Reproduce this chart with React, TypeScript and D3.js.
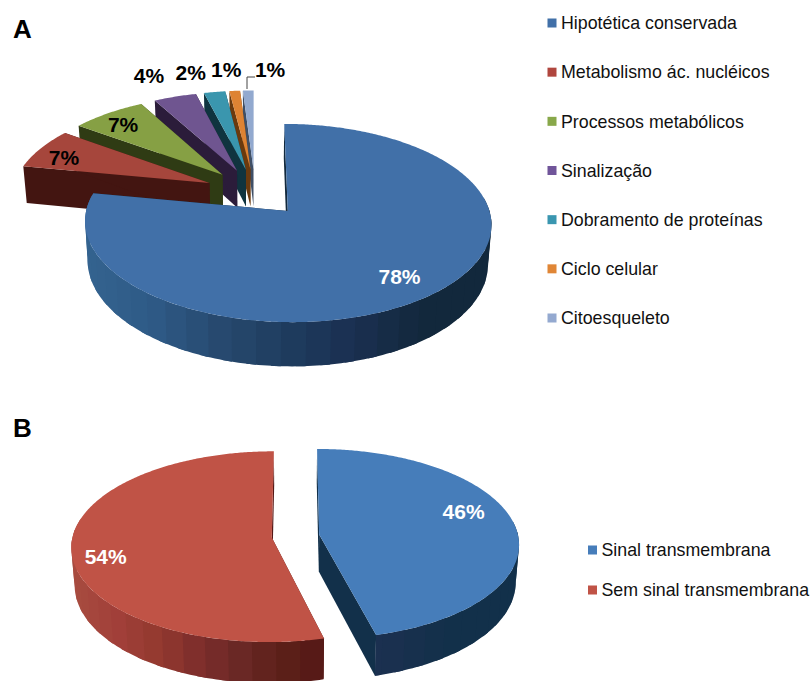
import React from "react";
import * as d3 from "d3";

// Panel A: functional categories
const categoriesA = ["Hipotética conservada", "Metabolismo ác. nucléicos", "Processos metabólicos", "Sinalização", "Dobramento de proteínas", "Ciclo celular", "Citoesqueleto"];
const valuesA = [78, 7, 7, 4, 2, 1, 1];
const topColorsA = ["#4170a8", "#a6463c", "#86a044", "#6f5590", "#3a96ae", "#de8333", "#92a9cf"];
const wallColorsA = ["#12293d", "#431511", "#2f3b14", "#2b1c3a", "#10343f", "#6b3a0e", "#3f4f66"];
const legendColorsA = ["#4170a8", "#b0463e", "#88a84a", "#70559a", "#3a96b0", "#e08636", "#94a9d0"];
const labelRadiusA = [0.8, 0.82, 0.82, 1.2, 1.25, 1.25, 1.25];
const labelNudgeA = [[-2, 1], [-6, 3], [-4, 1], [-15, -8], [-17, -2], [-5, -4], [23, -4]];

// Panel B: transmembrane signal
const categoriesB = ["Sinal transmembrana", "Sem sinal transmembrana"];
const valuesB = [46, 54];
const topColorsB = ["#467dba", "#c05346"];
const wallColorsB = ["#12304a", "#551816"];
const labelRadiusB = [0.73, 0.85];
const labelNudgeB = [[2, -14], [4, 9]];

// Shading of the curved outer wall, running left to right across each slice
const wallStopsBlueA = ["#34638f", "#2e5a86", "#27496f", "#1e3c5e", "#1a2f50", "#12283c", "#12283c"];
const wallStopsRedB = ["#a84c40", "#a2403a", "#94392f", "#7e2e2c", "#6a2825", "#5c2018", "#551816"];
const wallStopsBlueB = ["#1b3050", "#12304a", "#12304a"];

type Scene = { cx: number; cy: number; rx: number; ry: number; k: number; explode: number; depth: number; shrink: number };
const sceneA: Scene = { cx: 255, cy: 192.3, rx: 197, ry: 93.2, k: 0.118, explode: 0.255, depth: 38, shrink: 0.015 };
const sceneB: Scene = { cx: 295.5, cy: 536, rx: 199, ry: 94.2, k: 0.097, explode: 0.12, depth: 37, shrink: 0.015 };

const closed = d3.line<[number, number]>().curve(d3.curveLinearClosed);
const FONT = "'Liberation Sans', Arial, sans-serif";

function project(s: Scene, U: number, V: number, z: number): [number, number] {
  const p = 1 / (1 - s.k * V);
  return [s.cx + s.rx * U * p * (1 - s.shrink * z), s.cy + s.ry * V * p + s.depth * z * p];
}

function Pie3D(props: {
  scene: Scene; values: number[]; tops: string[]; walls: string[]; radii: number[]; nudges: number[][];
  labelColors: string[]; shades: (string[] | null)[]; order: number[]; fontSize: number;
}) {
  const { scene: s, values, tops, walls, radii, nudges, labelColors, shades, order, fontSize } = props;
  const arcs = d3.pie<number>().sort(null)(values);
  const items = order.map((i) => {
    const a = arcs[i];
    const mid = (a.startAngle + a.endAngle) / 2;
    const oU = s.explode * Math.sin(mid);
    const oV = -s.explode * Math.cos(mid);
    const pt = (t: number, r: number, z: number) => project(s, oU + r * Math.sin(t), oV - r * Math.cos(t), z);
    const thetas = d3.range(a.startAngle, a.endAngle, 0.01).concat([a.endAngle]);
    const top: [number, number][] = [pt(0, 0, 0), ...thetas.map((t) => pt(t, 1, 0))];

    // Outer wall strips: each overlaps the next, so the shading steps without seams
    const band = 0.11;
    const starts = d3.range(a.startAngle, a.endAngle, band).filter((t) => Math.cos(t + band / 2) < 0.15);
    const stops = shades[i];
    const [x0, x1] = d3.extent(starts, (t) => pt(t, 1, 0)[0]) as [number, number];
    const shade = stops
      ? d3.scaleLinear<string>().domain(stops.map((_, j) => x0 + ((x1 - x0) * j) / (stops.length - 1))).range(stops).clamp(true)
      : () => walls[i];
    return (
      <g key={i}>
        {[a.startAngle, a.endAngle].map((t, j) => (
          <path key={j} d={closed([pt(0, 0, 0), pt(t, 1, 0), pt(t, 1, 1), pt(0, 0, 1)]) ?? ""} fill={walls[i]} />
        ))}
        {starts.map((t) => {
          const e = Math.min(t + band * 1.4, a.endAngle);
          const c = shade(pt(t + band / 2, 1, 0)[0]) as string;
          const edge = d3.range(t, e, 0.02).concat([e]);
          return (
            <path key={t} d={closed([...edge.map((q) => pt(q, 1, 0)), ...edge.slice().reverse().map((q) => pt(q, 1, 1))]) ?? ""} fill={c} />
          );
        })}
        <path d={closed(top) ?? ""} fill={tops[i]} />
      </g>
    );
  });
  const labels = arcs.map((a, i) => {
    const mid = (a.startAngle + a.endAngle) / 2;
    const u = (s.explode + radii[i]) * Math.sin(mid);
    const v = -(s.explode + radii[i]) * Math.cos(mid);
    const [x, y] = project(s, u, v, 0);
    return (
      <text key={i} x={x + nudges[i][0]} y={y + nudges[i][1]} dy="0.35em" textAnchor="middle" fontFamily={FONT} fontWeight="bold" fontSize={fontSize} fill={labelColors[i]}>
        {values[i]}%
      </text>
    );
  });
  return <g>{items}{labels}</g>;
}

function Legend(props: { names: string[]; colors: string[]; x: number; y: d3.ScalePoint<string> }) {
  const { names, colors, x, y } = props;
  return (
    <g>
      {names.map((n, i) => (
        <g key={n}>
          <rect x={x} y={(y(n) as number) - 4.5} width={9} height={9} fill={colors[i]} />
          <text x={x + 13.5} y={y(n) as number} dy="0.35em" fontFamily={FONT} fontSize={17.8} fill="#111">{n}</text>
        </g>
      ))}
    </g>
  );
}

export default function App() {
  const legendYA = d3.scalePoint<string>().domain(categoriesA).range([23, 318]);
  const legendYB = d3.scalePoint<string>().domain(categoriesB).range([550, 590]);
  return (
    <svg width={811} height={681} style={{ position: "absolute", left: 0, top: 0, background: "#fff" }}>
      <text x={13} y={38} fontFamily={FONT} fontWeight="bold" fontSize={26}>A</text>
      <text x={13} y={437} fontFamily={FONT} fontWeight="bold" fontSize={26}>B</text>
      <Pie3D scene={sceneA} values={valuesA} tops={topColorsA} walls={wallColorsA} radii={labelRadiusA} nudges={labelNudgeA}
        labelColors={["#fff", "#000", "#000", "#000", "#000", "#000", "#000"]}
        shades={[wallStopsBlueA, null, null, null, null, null, null]} order={[6, 5, 4, 3, 2, 1, 0]} fontSize={21} />
      <path d="M247,89V77H255" fill="none" stroke="#444" strokeWidth={1} />
      <Legend names={categoriesA} colors={legendColorsA} x={547.5} y={legendYA} />
      <Pie3D scene={sceneB} values={valuesB} tops={topColorsB} walls={wallColorsB} radii={labelRadiusB} nudges={labelNudgeB}
        labelColors={["#fff", "#fff"]} shades={[wallStopsBlueB, wallStopsRedB]} order={[0, 1]} fontSize={21} />
      <Legend names={categoriesB} colors={["#467dba", "#c05346"]} x={588} y={legendYB} />
    </svg>
  );
}
